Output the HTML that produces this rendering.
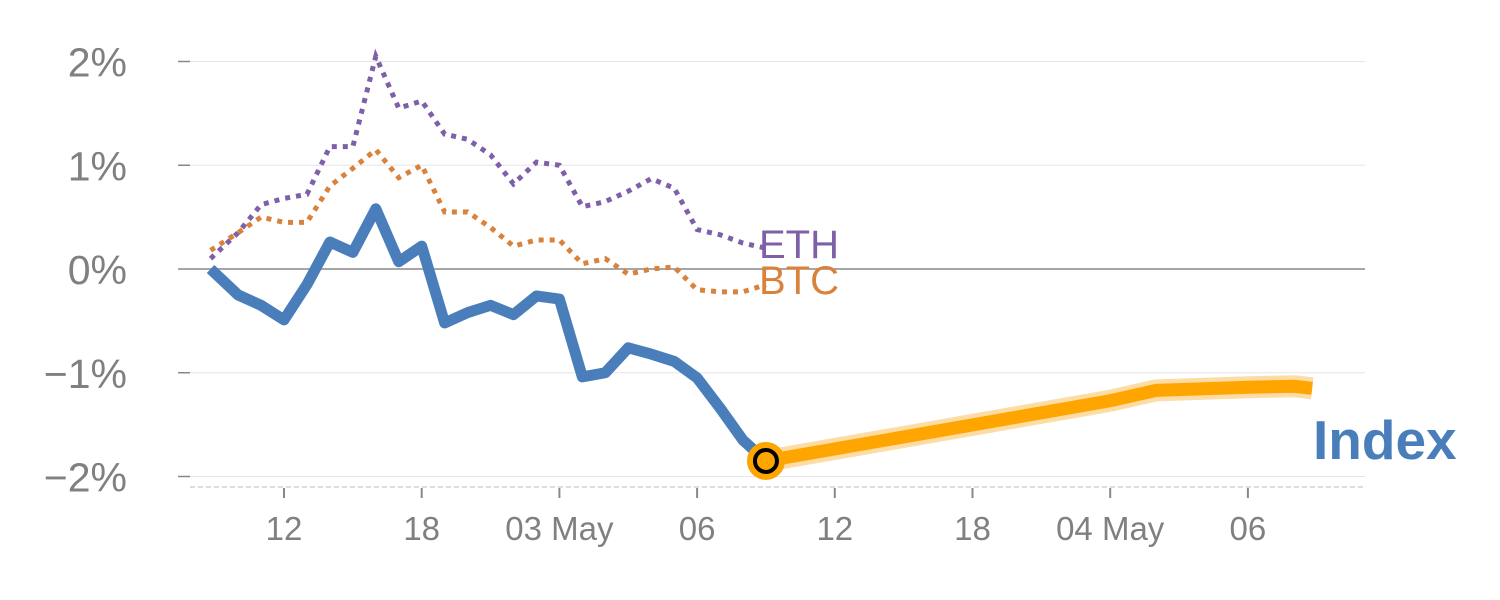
<!DOCTYPE html>
<html><head><meta charset="utf-8"><style>
body{margin:0;background:#fff;}
svg{display:block;font-family:"Liberation Sans",sans-serif;}
</style></head><body>
<svg id="chart" width="1500" height="600" viewBox="0 0 1500 600" xmlns="http://www.w3.org/2000/svg"></svg>
<script>
const hours = [8.8,10,11,12,13,14,15,16,17,18,19,20,21,22,23,24,25,26,27,28,29,30,31,32,33];
const indexVals = [0,-0.25,-0.35,-0.49,-0.15,0.26,0.16,0.58,0.07,0.22,-0.52,-0.42,-0.35,-0.44,-0.26,-0.29,-1.04,-1.0,-0.76,-0.82,-0.89,-1.05,-1.34,-1.65,-1.85];
const ethVals = [0.1,0.35,0.62,0.68,0.72,1.18,1.18,2.05,1.55,1.62,1.3,1.25,1.1,0.82,1.03,1.0,0.6,0.65,0.75,0.87,0.78,0.38,0.33,0.25,0.2];
const btcVals = [0.18,0.35,0.5,0.45,0.45,0.8,0.97,1.15,0.88,1.0,0.55,0.55,0.4,0.22,0.28,0.28,0.05,0.1,-0.05,0,0.02,-0.2,-0.22,-0.22,-0.15];
const fcHours = [33,40,48,50,54,56,56.8];
const fcVals = [-1.85,-1.58,-1.27,-1.17,-1.14,-1.13,-1.15];
const yTicks = [2,1,0,-1,-2];
const yTickLabels = ["2%","1%","0%","\u22121%","\u22122%"];
const xTicks = [12,18,24,30,36,42,48,54];
const xTickLabels = ["12","18","03 May","06","12","18","04 May","06"];

const svg = document.getElementById('chart');
const NS = 'http://www.w3.org/2000/svg';
const X = t => 284 + (t-12)*22.95;
const Y = v => 269 - v*103.75;
function mk(tag, attrs, parent){const e=document.createElementNS(NS,tag);for(const k in attrs)e.setAttribute(k,attrs[k]);(parent||svg).appendChild(e);return e;}

yTicks.forEach((v,i)=>{
  const g = mk('line',{x1:190,x2:1365,y1:Y(v),y2:Y(v),stroke:v===0?'#888':'#e6e6e6','stroke-width':v===0?1.5:1});
  
  
  const tk = mk('line',{x1:178,x2:190,y1:Y(v),y2:Y(v),stroke:'#888','stroke-width':1.5});
  
  
  const t = mk('text',{x:127,y:Y(v)+15,'text-anchor':'end','font-size':41,fill:'#808080'});
  t.textContent = yTickLabels[i];
  
  
});
const base = mk('line',{x1:190,x2:1365,y1:487,y2:487,stroke:'#ddd','stroke-width':2,'stroke-dasharray':'5,3'});


xTicks.forEach((t,i)=>{
  const tk = mk('line',{x1:X(t),x2:X(t),y1:488,y2:498,stroke:'#888','stroke-width':2});
  
  
  const l = mk('text',{x:X(t),y:540,'text-anchor':'middle','font-size':33,fill:'#808080'});
  l.textContent = xTickLabels[i];
  
  
});
const pts = (hs,vs)=>hs.map((h,i)=>X(h)+','+Y(vs[i])).join(' ');

const eth = mk('polyline',{points:pts(hours,ethVals),fill:'none',stroke:'#7f5fa8','stroke-width':5,'stroke-dasharray':'5,6'});


const btc = mk('polyline',{points:pts(hours,btcVals),fill:'none',stroke:'#d9823b','stroke-width':5,'stroke-dasharray':'5,6'});



const fcHalo = mk('polyline',{points:pts(fcHours,fcVals),fill:'none',stroke:'#fcd58e','stroke-width':22,'stroke-linejoin':'round',opacity:0.8});


const fc = mk('polyline',{points:pts(fcHours,fcVals),fill:'none',stroke:'#ffa500','stroke-width':13,'stroke-linejoin':'round'});



const idx = mk('polyline',{points:pts(hours,indexVals),fill:'none',stroke:'#4a7ebb','stroke-width':11,'stroke-linejoin':'round'});



const last = hours.length-1;
const m1 = mk('circle',{cx:X(hours[last]),cy:Y(indexVals[last]),r:19,fill:'#ffa500'});


const m2 = mk('circle',{cx:X(hours[last]),cy:Y(indexVals[last]),r:11,fill:'none',stroke:'#000','stroke-width':4});



const le = mk('text',{x:759,y:258,'font-size':40,fill:'#7f5fa8'});
le.textContent='ETH';


const lb = mk('text',{x:759,y:294,'font-size':40,fill:'#d9823b'});
lb.textContent='BTC';


const li = mk('text',{x:1313,y:459,'font-size':55,'font-weight':'bold',fill:'#4a7ebb'});
li.textContent='Index';


</script>
</body></html>
